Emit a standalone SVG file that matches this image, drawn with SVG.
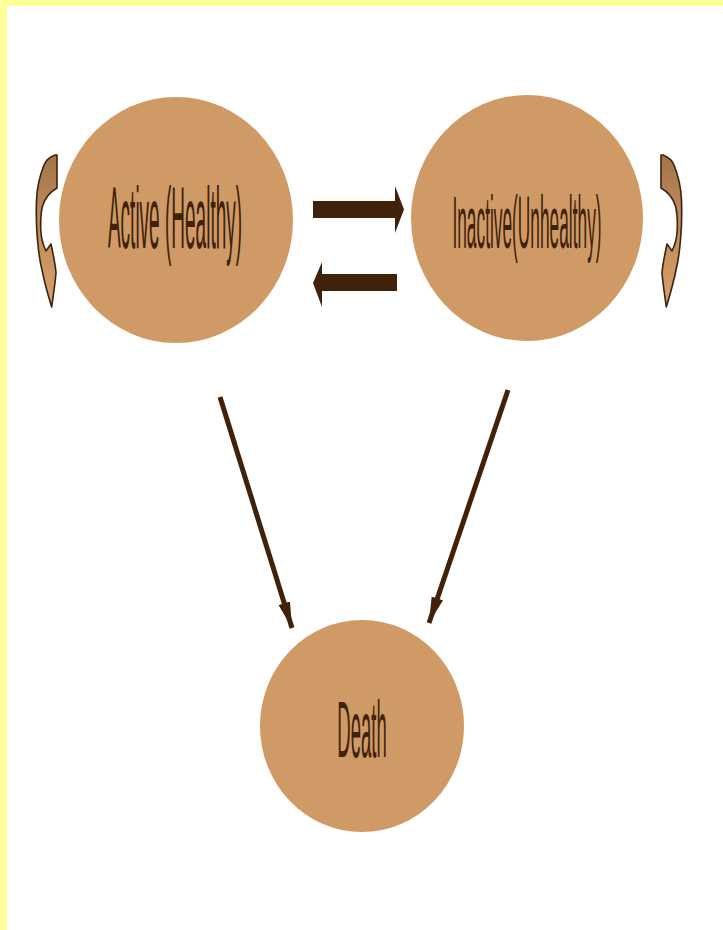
<svg xmlns="http://www.w3.org/2000/svg" width="723" height="930" viewBox="0 0 723 930">
  <style>
    .state { fill: #D09A66; }
    .label { font-family: "Liberation Sans", Arial, sans-serif; fill: #40220A; text-anchor: middle; }
    .flow { stroke: #40220A; stroke-width: 5; fill: none; stroke-linecap: butt; }
    .bar { fill: #40220A; }
    .loop { fill: url(#loopFill); stroke: #3A2410; stroke-width: 1.6; stroke-linejoin: round; }
  </style>
  <defs>
    <linearGradient id="loopFill" x1="0" y1="0" x2="0" y2="1">
      <stop offset="0" stop-color="#A47347"/>
      <stop offset="0.35" stop-color="#B9875A"/>
      <stop offset="1" stop-color="#D9A06A"/>
    </linearGradient>
    <marker id="head" markerUnits="userSpaceOnUse" markerWidth="30" markerHeight="16" refX="26" refY="8" orient="auto">
      <path d="M0,8 L0,2 L26,8 L0,14 Z" fill="#40220A"/>
    </marker>
    <!-- self-loop ribbon, drawn for the left side; mirrored for the right -->
    <path id="selfLoop" d="M55,155 C50,157 46,160 44,165 C40,175 37,187 36.5,200 C36,215 36.5,230 37.5,240 C38.5,252 40,262 42,270 C44,280 48,295 51.7,307 C53,297 55,285 56,273 C55.5,265 54,258 51,244 C49,247 47,249 46,251 C43,245 41,237 40.7,229 C40.5,220 41,212 42.5,206 C45,198 50,192 57,188 L57,155 Z"/>
  </defs>

  <rect width="723" height="930" fill="#FFFFFF"/>
  <!-- page frame -->
  <rect x="0" y="0" width="723" height="6" fill="#FFFF99"/>
  <rect x="0" y="0" width="7" height="930" fill="#FFFF99"/>

  <g id="connectors">
    <!-- Active -> Inactive -->
    <path class="bar" d="M313,201 L395,201 L395,186 L404,209.5 L395,233 L395,218 L313,218 Z"/>
    <!-- Inactive -> Active -->
    <path class="bar" d="M397,274 L322,274 L322,262 L313,283 L322,307 L322,291 L397,291 Z"/>
    <!-- Active -> Death -->
    <line class="flow" x1="220" y1="397" x2="292" y2="628" marker-end="url(#head)"/>
    <!-- Inactive -> Death -->
    <line class="flow" x1="508" y1="390" x2="429" y2="623" marker-end="url(#head)"/>
    <!-- self loops -->
    <use href="#selfLoop" class="loop"/>
    <use href="#selfLoop" class="loop" transform="translate(718,0) scale(-1,1)"/>
  </g>

  <!-- labels are set in a tall, narrow cut: horizontally condensed glyphs -->
  <g id="active">
    <ellipse class="state" cx="176" cy="220" rx="117" ry="123"/>
    <text class="label" font-size="88" transform="translate(175,248) scale(0.216,1)">Active (Healthy)</text>
  </g>

  <g id="inactive">
    <ellipse class="state" cx="527" cy="218" rx="116" ry="123"/>
    <text class="label" font-size="74" transform="translate(527,248) scale(0.234,1)">Inactive(Unhealthy)</text>
  </g>

  <g id="death">
    <ellipse class="state" cx="362" cy="726" rx="102" ry="106"/>
    <text class="label" font-size="79" transform="translate(362,757) scale(0.234,1)">Death</text>
  </g>
</svg>
